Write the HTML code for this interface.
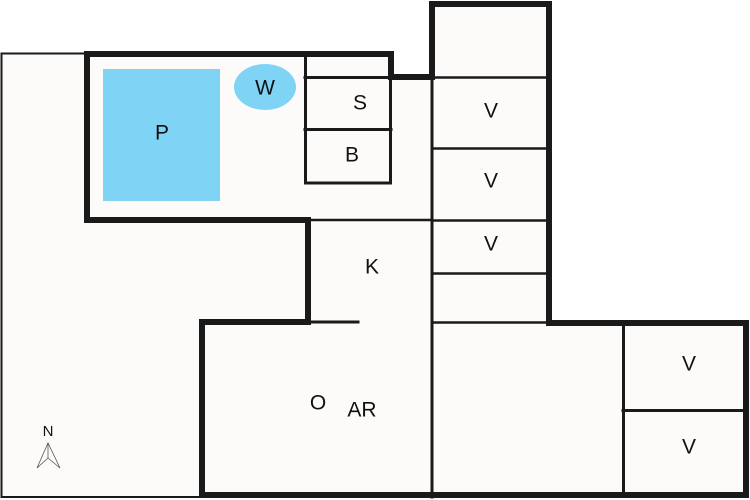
<!DOCTYPE html>
<html><head><meta charset="utf-8"><style>
html,body{margin:0;padding:0;background:#fff;}
svg{display:block;}
text{font-family:"Liberation Sans",sans-serif;font-size:21px;fill:#111;text-anchor:middle;dominant-baseline:middle;}
</style></head><body>
<svg width="750" height="500" viewBox="0 0 750 500" xmlns="http://www.w3.org/2000/svg">
<rect width="750" height="500" fill="#fff"/>
<path d="M1 53 H391 V77 H432 V3 H550 V323 H748 V497 H1 Z" fill="#fcfbf9"/>
<g stroke="#1a1a1a" fill="none" stroke-linecap="square">
 <path d="M1.5 53.5 H86 M1.5 53.5 V497 H200" stroke-width="2"/>
 <path d="M87 220 V54 H391 V77 H432" stroke-width="6"/>
 <path d="M87 220 H308 V322 H202" stroke-width="6"/>
 <path d="M308 220 H432" stroke-width="2.5"/>
 <path d="M308 322 H358" stroke-width="3"/>
 <path d="M305.5 55 V183 H390.5 V77 M305 77.5 H391 M305 129.5 H391" stroke-width="3"/>
 <path d="M432 77 V4 H549 V323" stroke-width="6"/>
 <path d="M432 77 V497" stroke-width="3"/>
 <path d="M432 77.5 H549 M432 148.5 H549 M432 220.5 H549 M432 273.5 H549 M432 322.5 H549" stroke-width="2.5"/>
 <path d="M202 322 V495 H746 V323 H549" stroke-width="6"/>
 <path d="M623.5 323 V495 M623 410.5 H746" stroke-width="3"/>
</g>
<rect x="103" y="69" width="117" height="132" fill="#7fd3f5"/>
<ellipse cx="265" cy="87" rx="31" ry="23" fill="#7fd3f5"/>
<text x="162" y="134">P</text>
<text x="265" y="89">W</text>
<text x="360" y="104">S</text>
<text x="352" y="156">B</text>
<text x="491" y="112">V</text>
<text x="491" y="182">V</text>
<text x="491" y="245">V</text>
<text x="372" y="268">K</text>
<text x="318" y="404">O</text>
<text x="362" y="411">AR</text>
<text x="689" y="365">V</text>
<text x="689" y="448">V</text>
<text x="48" y="432" style="font-size:15px">N</text>
<path d="M48 443 L37 468 L48 458 L60 468 Z M48 443 V458" fill="none" stroke="#555" stroke-width="0.8"/>
</svg>
</body></html>
